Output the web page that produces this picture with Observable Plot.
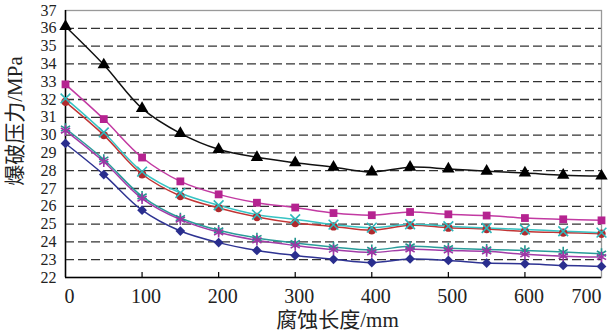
<!DOCTYPE html>
<html>
<head>
<meta charset="utf-8">
<script src="https://cdn.jsdelivr.net/npm/d3@7"></script>
<script src="https://cdn.jsdelivr.net/npm/@observablehq/plot@0.6"></script>
<style>
  html, body { margin: 0; padding: 0; background: #fff; }
</style>
</head>
<body>
<div id="chart"></div>
<script>
const lengths = [0, 50, 100, 150, 200, 250, 300, 350, 400, 450, 500, 550, 600, 650, 700];
const blackTri  = [36.1, 33.95, 31.5, 30.1, 29.2, 28.75, 28.45, 28.2, 27.93, 28.2, 28.1, 27.97, 27.87, 27.75, 27.7];
const magentaSq = [32.85, 30.9, 28.74, 27.4, 26.67, 26.2, 25.93, 25.62, 25.5, 25.68, 25.55, 25.48, 25.34, 25.27, 25.21];
const redCirc   = [31.87, 30.0, 27.8, 26.58, 25.9, 25.4, 25.06, 24.87, 24.65, 24.93, 24.8, 24.72, 24.59, 24.52, 24.46];
const cyanX     = [32.06, 30.15, 27.95, 26.75, 26.06, 25.53, 25.27, 24.97, 24.8, 24.99, 24.88, 24.78, 24.7, 24.6, 24.52];
const tealStar  = [30.37, 28.63, 26.56, 25.34, 24.65, 24.22, 23.94, 23.71, 23.55, 23.75, 23.65, 23.58, 23.52, 23.43, 23.34];
const purpleAst = [30.25, 28.5, 26.43, 25.25, 24.54, 24.09, 23.8, 23.56, 23.41, 23.58, 23.52, 23.47, 23.3, 23.2, 23.15];
const blueDia   = [29.53, 27.78, 25.78, 24.61, 23.96, 23.52, 23.24, 23.02, 22.84, 23.04, 22.96, 22.81, 22.77, 22.68, 22.62];

const xTickMarks = [100, 200, 300, 400, 500, 600];
const xTicksCentered = [0, 100, 200, 300, 400, 500, 600];
const xTicksEnd = [700];
const yTicks = d3.range(22, 38);
const gridValues = d3.range(23, 37);
const xLabel = "腐蚀长度/mm";
const yLabel = "爆破压力/MPa";

const series = [
  {values: blackTri,  line: "#111111", mark: "#000000", symbol: "triangle", filled: true,  r: 4.6},
  {values: magentaSq, line: "#c23aa2", mark: "#b52390", symbol: "square",   filled: true,  r: 4.4},
  {values: redCirc,   line: "#c23434", mark: "#b02a2e", symbol: "circle",   filled: true,  r: 4.2},
  {values: cyanX,     line: "#38c4c4", mark: "#2fb8bb", symbol: "times",    filled: false, r: 4.5},
  {values: tealStar,  line: "#2a9c9a", mark: "#23948f", symbol: "asterisk", filled: false, r: 5},
  {values: purpleAst, line: "#a23ca8", mark: "#9f35a5", symbol: "asterisk", filled: false, r: 5},
  {values: blueDia,   line: "#2e3392", mark: "#2a2e8e", symbol: "diamond2", filled: true,  r: 4.4}
];

const marks = [
  Plot.ruleY(gridValues, {stroke: "#333", strokeWidth: 1.3, strokeDasharray: "9,4"}),
  Plot.frame({stroke: "#999", strokeWidth: 1.3}),
  Plot.ruleX([0], {stroke: "#000", strokeWidth: 1.5}),
  Plot.ruleY([22], {stroke: "#000", strokeWidth: 1.5}),
  Plot.ruleX(xTickMarks, {insetTop: 262, stroke: "#000", strokeWidth: 1.2}),
  Plot.axisY({ticks: yTicks, tickSize: 0, tickPadding: 9, fontSize: 16, label: null}),
  Plot.axisX({ticks: xTicksCentered, tickSize: 0, tickPadding: 11, dx: 4, fontSize: 20, label: null}),
  Plot.axisX({ticks: xTicksEnd, tickSize: 0, tickPadding: 11, textAnchor: "end", fontSize: 20, label: null}),
  Plot.text([yLabel], {frameAnchor: "left", textAnchor: "middle", lineAnchor: "middle", dx: -50, dy: -23, rotate: -90, fontSize: 21, fill: "#222"}),
  Plot.text([xLabel], {frameAnchor: "bottom", textAnchor: "middle", lineAnchor: "middle", dx: 4, dy: 43, fontSize: 21, fill: "#222"})
];

for (const s of series) {
  const data = lengths.map((x, i) => ({x, y: s.values[i]}));
  marks.push(Plot.line(data, {x: "x", y: "y", stroke: s.line, strokeWidth: 1.5, curve: "catmull-rom"}));
}
for (const s of series) {
  const data = lengths.map((x, i) => ({x, y: s.values[i]}));
  marks.push(Plot.dot(data, s.filled
    ? {x: "x", y: "y", symbol: () => s.symbol, r: s.r, fill: s.mark, stroke: "none"}
    : {x: "x", y: "y", symbol: () => s.symbol, r: s.r, stroke: s.mark, strokeWidth: 1.6, fill: "none"}));
}

const chart = Plot.plot({
  width: 609,
  height: 332,
  marginLeft: 65,
  marginRight: 8,
  marginTop: 10,
  marginBottom: 55,
  style: {fontFamily: "'Liberation Serif', 'Times New Roman', 'Noto Sans CJK SC', serif", background: "#fff", color: "#222"},
  x: {domain: [0, 700]},
  y: {domain: [22, 37]},
  symbol: {type: "identity"},
  marks
});
document.getElementById("chart").appendChild(chart);
</script>
</body>
</html>
